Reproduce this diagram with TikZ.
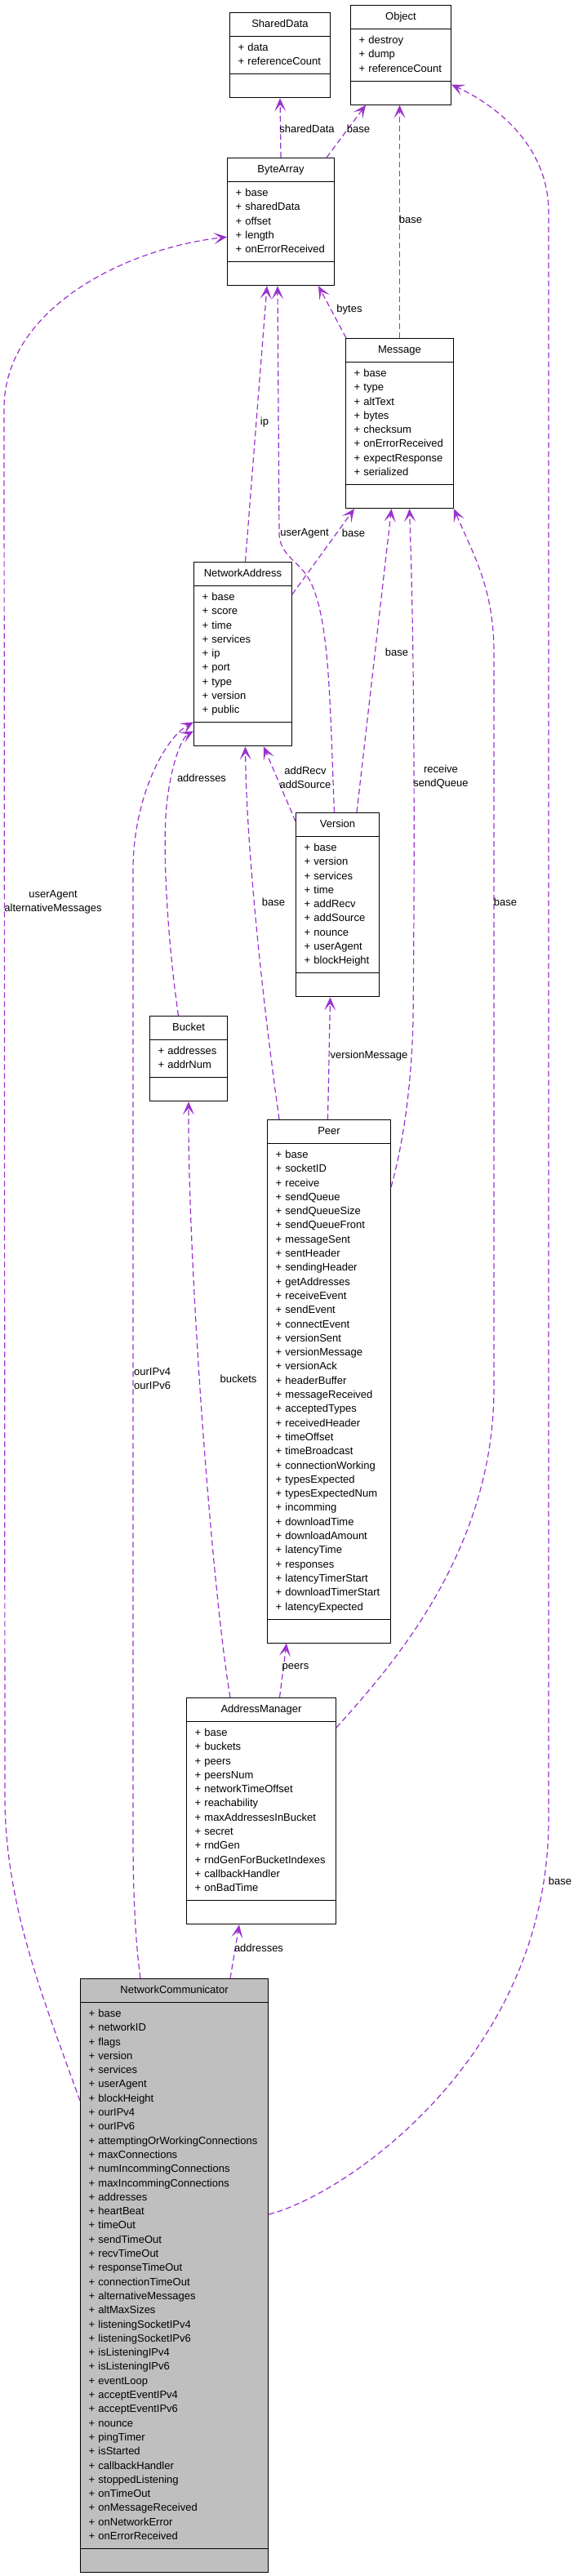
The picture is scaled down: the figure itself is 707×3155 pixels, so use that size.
\documentclass[tikz,border=0pt]{standalone}
\usepackage{fontspec}
\setmainfont{Liberation Sans}
\usetikzlibrary{shapes.multipart,arrows.meta}

\definecolor{dxpurple}{RGB}{154,50,205}
\definecolor{dxgray}{RGB}{191,191,191}

% class title and member lines
\newcommand{\ttl}[1]{\centering\strut#1\par}
\newcommand{\mbr}[1]{\strut+ #1}

\begin{document}
\begin{tikzpicture}[x=1pt,y=-1pt,
  cls/.style={rectangle split, rectangle split parts=3, draw=black, line width=1pt,
    fill=white, anchor=north west, inner xsep=10pt, inner ysep=5.35pt, align=left,
    font=\fontsize{13}{17.3}\selectfont},
  uses/.style={draw=dxpurple, line width=1.2pt, dash pattern=on 7pt off 4pt,
    -{Stealth[length=16pt,width=14pt,inset=8pt,fill=dxpurple]}},
  lbl/.style={font=\fontsize{13}{17}\selectfont, align=center}]
\tikzstyle{every node}+=[inner sep=0pt]
\useasboundingbox (0,0) rectangle (707,3155);
% classes
\node [cls, text width=103pt] (sharedData) at (281,15) {\ttl{SharedData}
  \nodepart{two}\mbr{data}\\\mbr{referenceCount}
  \nodepart{three}\strut};
\node [cls, text width=103pt] (object) at (429,6) {\ttl{Object}
  \nodepart{two}\mbr{destroy}\\\mbr{dump}\\\mbr{referenceCount}
  \nodepart{three}\strut};
\node [cls, text width=111pt] (byteArray) at (278,193) {\ttl{ByteArray}
  \nodepart{two}\mbr{base}\\\mbr{sharedData}\\\mbr{offset}\\\mbr{length}\\\mbr{onErrorReceived}
  \nodepart{three}\strut};
\node [cls, text width=112pt] (message) at (423,414) {\ttl{Message}
  \nodepart{two}\mbr{base}\\\mbr{type}\\\mbr{altText}\\\mbr{bytes}\\\mbr{checksum}\\
  \mbr{onErrorReceived}\\\mbr{expectResponse}\\\mbr{serialized}
  \nodepart{three}\strut};
\node [cls, text width=100pt] (networkAddress) at (237,688) {\ttl{NetworkAddress}
  \nodepart{two}\mbr{base}\\\mbr{score}\\\mbr{time}\\\mbr{services}\\\mbr{ip}\\\mbr{port}\\
  \mbr{type}\\\mbr{version}\\\mbr{public}
  \nodepart{three}\strut};
\node [cls, text width=82pt] (version) at (362,995) {\ttl{Version}
  \nodepart{two}\mbr{base}\\\mbr{version}\\\mbr{services}\\\mbr{time}\\\mbr{addRecv}\\
  \mbr{addSource}\\\mbr{nounce}\\\mbr{userAgent}\\\mbr{blockHeight}
  \nodepart{three}\strut};
\node [cls, text width=75pt] (bucket) at (183,1244) {\ttl{Bucket}
  \nodepart{two}\mbr{addresses}\\\mbr{addrNum}
  \nodepart{three}\strut};
\node [cls, text width=131pt] (peer) at (327,1371) {\ttl{Peer}
  \nodepart{two}\mbr{base}\\\mbr{socketID}\\\mbr{receive}\\\mbr{sendQueue}\\\mbr{sendQueueSize}\\
  \mbr{sendQueueFront}\\\mbr{messageSent}\\\mbr{sentHeader}\\\mbr{sendingHeader}\\
  \mbr{getAddresses}\\\mbr{receiveEvent}\\\mbr{sendEvent}\\\mbr{connectEvent}\\
  \mbr{versionSent}\\\mbr{versionMessage}\\\mbr{versionAck}\\\mbr{headerBuffer}\\
  \mbr{messageReceived}\\\mbr{acceptedTypes}\\\mbr{receivedHeader}\\\mbr{timeOffset}\\
  \mbr{timeBroadcast}\\\mbr{connectionWorking}\\\mbr{typesExpected}\\\mbr{typesExpectedNum}\\
  \mbr{incomming}\\\mbr{downloadTime}\\\mbr{downloadAmount}\\\mbr{latencyTime}\\
  \mbr{responses}\\\mbr{latencyTimerStart}\\\mbr{downloadTimerStart}\\\mbr{latencyExpected}
  \nodepart{three}\strut};
\node [cls, text width=163pt] (addressManager) at (228,2079) {\ttl{AddressManager}
  \nodepart{two}\mbr{base}\\\mbr{buckets}\\\mbr{peers}\\\mbr{peersNum}\\\mbr{networkTimeOffset}\\
  \mbr{reachability}\\\mbr{maxAddressesInBucket}\\\mbr{secret}\\\mbr{rndGen}\\
  \mbr{rndGenForBucketIndexes}\\\mbr{callbackHandler}\\\mbr{onBadTime}
  \nodepart{three}\strut};
\node [cls, text width=210pt, fill=dxgray] (networkCommunicator) at (98,2423) {\ttl{NetworkCommunicator}
  \nodepart{two}\mbr{base}\\\mbr{networkID}\\\mbr{flags}\\\mbr{version}\\\mbr{services}\\
  \mbr{userAgent}\\\mbr{blockHeight}\\\mbr{ourIPv4}\\\mbr{ourIPv6}\\
  \mbr{attemptingOrWorkingConnections}\\\mbr{maxConnections}\\\mbr{numIncommingConnections}\\
  \mbr{maxIncommingConnections}\\\mbr{addresses}\\\mbr{heartBeat}\\\mbr{timeOut}\\
  \mbr{sendTimeOut}\\\mbr{recvTimeOut}\\\mbr{responseTimeOut}\\\mbr{connectionTimeOut}\\
  \mbr{alternativeMessages}\\\mbr{altMaxSizes}\\\mbr{listeningSocketIPv4}\\
  \mbr{listeningSocketIPv6}\\\mbr{isListeningIPv4}\\\mbr{isListeningIPv6}\\\mbr{eventLoop}\\
  \mbr{acceptEventIPv4}\\\mbr{acceptEventIPv6}\\\mbr{nounce}\\\mbr{pingTimer}\\
  \mbr{isStarted}\\\mbr{callbackHandler}\\\mbr{stoppedListening}\\\mbr{onTimeOut}\\
  \mbr{onMessageReceived}\\\mbr{onNetworkError}\\\mbr{onErrorReceived}
  \nodepart{three}\strut};
% usage connectors
\draw [uses] (byteArray.north) -- (sharedData.south);
\draw [uses] ([xshift=-10pt]byteArray.north east) -- ([xshift=19pt]object.south west);
\draw [uses] (message.north) -- (message.north |- object.south);
\draw [uses] ([xshift=1pt]message.north west) -- ([xshift=-20pt]byteArray.south east);
\draw [uses] ([xshift=3pt]networkAddress.north) -- ([xshift=49pt]byteArray.south west);
\draw [uses] ([xshift=-4pt]version.north) .. controls (404,860) and (404,760) .. (380,712)
  .. controls (368,688) and (344,682) .. (342,655) -- ([xshift=-4pt]byteArray.south);
\draw [uses] ([yshift=-40pt]networkAddress.north east) -- ([xshift=11pt]message.south west);
\draw [uses] ([xshift=-28pt]version.north east) -- ([xshift=-10pt]message.south);
\draw [uses] ([yshift=-83pt]peer.north east) .. controls (494,1400) and (504,1330) .. (506,1250)
  .. controls (508,1050) and (508,800) .. ([xshift=12pt]message.south);
\draw [uses] ([yshift=-37pt]addressManager.north east) .. controls (480,2040) and (605,1900) .. (605,1700)
  -- (605,800) .. controls (605,720) and (580,680) .. (message.south east);
\draw [uses] ([yshift=-289pt]networkCommunicator.north east) .. controls (420,2690) and (672,2520) .. (672,2228)
  -- (672,260) .. controls (672,180) and (610,130) .. ([yshift=25pt]object.south east);
\draw [uses] ([xshift=15pt]peer.north west) .. controls (325,1250) and (302,1050) .. ([xshift=3pt]networkAddress.south);
\draw [uses] ([yshift=-11pt]version.north west) -- ([xshift=-35pt]networkAddress.south east);
\draw [uses] ([xshift=-12.5pt]bucket.north) .. controls (205,1150) and (200,1050) .. (203,1000)
  .. controls (206,950) and (220,905) .. ([yshift=19pt]networkAddress.south west);
\draw [uses] ([xshift=74pt]networkCommunicator.north west) .. controls (166,2380) and (163,2320) .. (163,2250)
  -- (163,1065) .. controls (163,980) and (200,905) .. ([yshift=30pt]networkAddress.south west);
\draw [uses] ([yshift=-150pt]networkCommunicator.north west) .. controls (50,2440) and (6,2330) .. (6,2200)
  -- (5,500) .. controls (5,380) and (150,305) .. ([yshift=60pt]byteArray.south west);
\draw [uses] ([xshift=22.5pt]addressManager.north) -- ([xshift=24pt]peer.south west);
\draw [uses] ([xshift=54pt]addressManager.north west) .. controls (260,1950) and (230,1550) .. (bucket.south);
\draw [uses] ([xshift=-1.5pt]peer.north) -- ([xshift=-9pt]version.south);
\draw [uses] ([xshift=184pt]networkCommunicator.north west) -- ([xshift=65pt]addressManager.south west);
% connector labels
\node [lbl] (lSharedData) at (376,158) {sharedData};
\node [lbl] (lBaseByteArray) at (439,158) {base};
\node [lbl] (lBaseMessage) at (503,269) {base};
\node [lbl] (lBytes) at (428,379) {bytes};
\node [lbl] (lIp) at (324,517) {ip};
\node [lbl] (lUserAgent) at (373,653) {userAgent};
\node [lbl] (lBaseAddress) at (433,653) {base};
\node [lbl] (lBaseVersion) at (486,799) {base};
\node [lbl] (lReceive) at (540,952) {receive\\sendQueue};
\node [lbl] (lBaseManager) at (619,1105) {base};
\node [lbl] (lBaseComm) at (686,2304) {base};
\node [lbl] (lBasePeer) at (335,1105) {base};
\node [lbl] (lAddRecv) at (374,952) {addRecv\\addSource};
\node [lbl] (lAddresses) at (247,953) {addresses};
\node [lbl, anchor=west, align=left] (lOurIP) at (164,1689) {ourIPv4\\ourIPv6};
\node [lbl] (lUserAlt) at (65,1105) {userAgent\\alternativeMessages};
\node [lbl] (lBuckets) at (292,1689) {buckets};
\node [lbl] (lPeers) at (362,2042) {peers};
\node [lbl] (lVersionMessage) at (452,1293) {versionMessage};
\node [lbl] (lAddressesComm) at (317,2386) {addresses};
\end{tikzpicture}
\end{document}
